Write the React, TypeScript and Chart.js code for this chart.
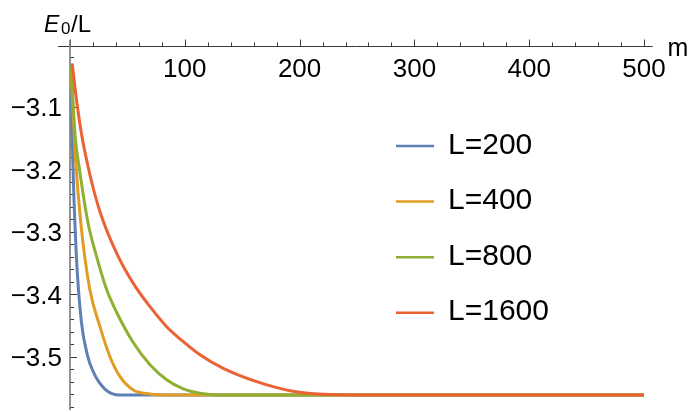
import React, { useEffect, useRef } from "react";
import { Chart, registerables } from "chart.js";

Chart.register(...registerables);

// ---- data ----
const SERIES_LABELS = ["L=200", "L=400", "L=800", "L=1600"];
const SERIES_COLORS = ["#5E81B5", "#E19C24", "#8FB032", "#EB6235"];

const M_L200 = [1, 2.3, 5.5, 9.9, 15.1, 20, 25, 30, 35, 40, 45, 500];
const E_L200 = [-3.06, -3.177, -3.337, -3.444, -3.497, -3.523, -3.54, -3.551, -3.558, -3.5608, -3.5613, -3.5613];

const M_L400 = [1, 4.6, 9.3, 17.1, 26.1, 34.8, 43.6, 55.1, 69.7, 85, 500];
const E_L400 = [-3.045, -3.177, -3.284, -3.391, -3.452, -3.5, -3.532, -3.5533, -3.5597, -3.5613, -3.5613];

const M_L800 = [1, 4.4, 8.1, 15.5, 22.9, 31.6, 40.7, 55.1, 69.7, 84.2, 98.7, 113.2, 130, 500];
const E_L800 = [-3.035, -3.145, -3.198, -3.284, -3.338, -3.391, -3.4293, -3.4773, -3.513, -3.537, -3.5515, -3.5585, -3.5613, -3.5613];

const M_L1600 = [1.9, 5.8, 10.2, 17.4, 26.1, 40.7, 55.1, 69.7, 84.2, 98.7, 113.2, 133.5, 162.6, 191.6, 220.7, 260, 500];
const E_L1600 = [-3.0306, -3.0909, -3.1453, -3.2093, -3.268, -3.3347, -3.3827, -3.42, -3.452, -3.476, -3.497, -3.5187, -3.54, -3.5544, -3.5602, -3.5613, -3.5613];

const X_TICK_LABELS = [100, 200, 300, 400, 500];
const Y_TICK_LABELS = [-3.1, -3.2, -3.3, -3.4, -3.5];
const X_MIN = 0;
const X_MAX = 500;
const Y_MIN = -3.5853;
const Y_MAX = -3.0029;

const FONT = '"Liberation Sans", Arial, sans-serif';

const toPoints = (ms: number[], es: number[]) => ms.map((m, i) => ({ x: m, y: es[i] }));

const mmaAxes = {
  id: "mmaAxes",
  beforeDatasetsDraw(chart: any) {
    const { ctx, chartArea } = chart;
    const xs = chart.scales.x;
    const ys = chart.scales.y;
    const yTop = Math.round(chartArea.top) + 0.5;
    const x0 = xs.getPixelForValue(0);
    ctx.save();
    // x axis line
    ctx.strokeStyle = "#3a3a3a";
    ctx.lineWidth = 1;
    ctx.beginPath();
    ctx.moveTo(xs.getPixelForValue(-10.5), yTop);
    ctx.lineTo(xs.getPixelForValue(507.5), yTop);
    ctx.stroke();
    // x ticks (upwards)
    for (let v = 0; v <= 500; v += 20) {
      const px = Math.round(xs.getPixelForValue(v)) + 0.5;
      const len = v % 100 === 0 ? 7 : 4;
      ctx.beginPath();
      ctx.moveTo(px, yTop);
      ctx.lineTo(px, yTop - len);
      ctx.stroke();
    }
    // y ticks (to the right)
    for (let k = 151; k <= 179; k++) {
      const v = -k / 50;
      const py = Math.round(ys.getPixelForValue(v)) + 0.5;
      const len = k % 5 === 0 ? 7 : 4;
      ctx.beginPath();
      ctx.moveTo(x0, py);
      ctx.lineTo(x0 + len, py);
      ctx.stroke();
    }
    // y axis line
    ctx.strokeStyle = "#7a7a7a";
    ctx.lineWidth = 1.6;
    ctx.beginPath();
    ctx.moveTo(x0, yTop - 6.5);
    ctx.lineTo(x0, chartArea.bottom);
    ctx.stroke();

    // tick labels
    ctx.fillStyle = "#000";
    ctx.font = `26px ${FONT}`;
    ctx.textAlign = "center";
    ctx.textBaseline = "alphabetic";
    for (const v of X_TICK_LABELS) {
      ctx.fillText(String(v), xs.getPixelForValue(v), yTop + 30);
    }
    ctx.textAlign = "right";
    for (const v of Y_TICK_LABELS) {
      const txt = "\u2212" + Math.abs(v).toFixed(1);
      ctx.fillText(txt, x0 - 8, ys.getPixelForValue(v) + 9.5);
    }
    // axis labels
    ctx.textAlign = "left";
    ctx.font = `25px ${FONT}`;
    ctx.fillText("m", xs.getPixelForValue(507.5) + 15, yTop + 9);
    // E_0/L
    ctx.font = `italic 23px ${FONT}`;
    ctx.fillText("E", 44, 31.5);
    ctx.font = `17px ${FONT}`;
    ctx.fillText("0", 61, 34);
    ctx.font = `24px ${FONT}`;
    ctx.fillText("/L", 71, 31.5);
    ctx.restore();
  },
  afterDatasetsDraw(chart: any) {
    const { ctx } = chart;
    ctx.save();
    const ds = chart.data.datasets;
    ctx.font = `30px ${FONT}`;
    ctx.textAlign = "left";
    ctx.textBaseline = "alphabetic";
    for (let i = 0; i < ds.length; i++) {
      const ly = 146 + i * 55.6;
      ctx.strokeStyle = ds[i].borderColor;
      ctx.lineWidth = 2.5;
      ctx.beginPath();
      ctx.moveTo(396, ly);
      ctx.lineTo(434, ly);
      ctx.stroke();
      ctx.fillStyle = "#000";
      ctx.fillText(ds[i].label, 448, ly + 7.5);
    }
    ctx.restore();
  },
};

export default function App() {
  const ref = useRef<HTMLCanvasElement>(null);
  useEffect(() => {
    if (!ref.current) return;
    const seriesM = [M_L200, M_L400, M_L800, M_L1600];
    const seriesE = [E_L200, E_L400, E_L800, E_L1600];
    const chart = new Chart(ref.current, {
      type: "scatter",
      data: {
        datasets: SERIES_LABELS.map((label, i) => ({
          label,
          data: toPoints(seriesM[i], seriesE[i]),
          showLine: true,
          borderColor: SERIES_COLORS[i],
          backgroundColor: SERIES_COLORS[i],
          borderWidth: 3,
          pointRadius: 0,
          pointHoverRadius: 0,
          cubicInterpolationMode: "monotone" as const,
          order: SERIES_LABELS.length - 1 - i,
        })),
      },
      options: {
        responsive: false,
        maintainAspectRatio: false,
        animation: false,
        layout: { padding: { left: 70, right: 50, top: 46, bottom: 2 } },
        scales: {
          x: { type: "linear", min: X_MIN, max: X_MAX, display: false },
          y: { type: "linear", min: Y_MIN, max: Y_MAX, display: false },
        },
        plugins: { legend: { display: false }, tooltip: { enabled: false } },
      },
      plugins: [mmaAxes],
    });
    return () => chart.destroy();
  }, []);
  return (
    <div style={{ position: "absolute", left: 0, top: 0, width: 694, height: 412, background: "#fff" }}>
      <canvas ref={ref} width={694} height={412} />
    </div>
  );
}
